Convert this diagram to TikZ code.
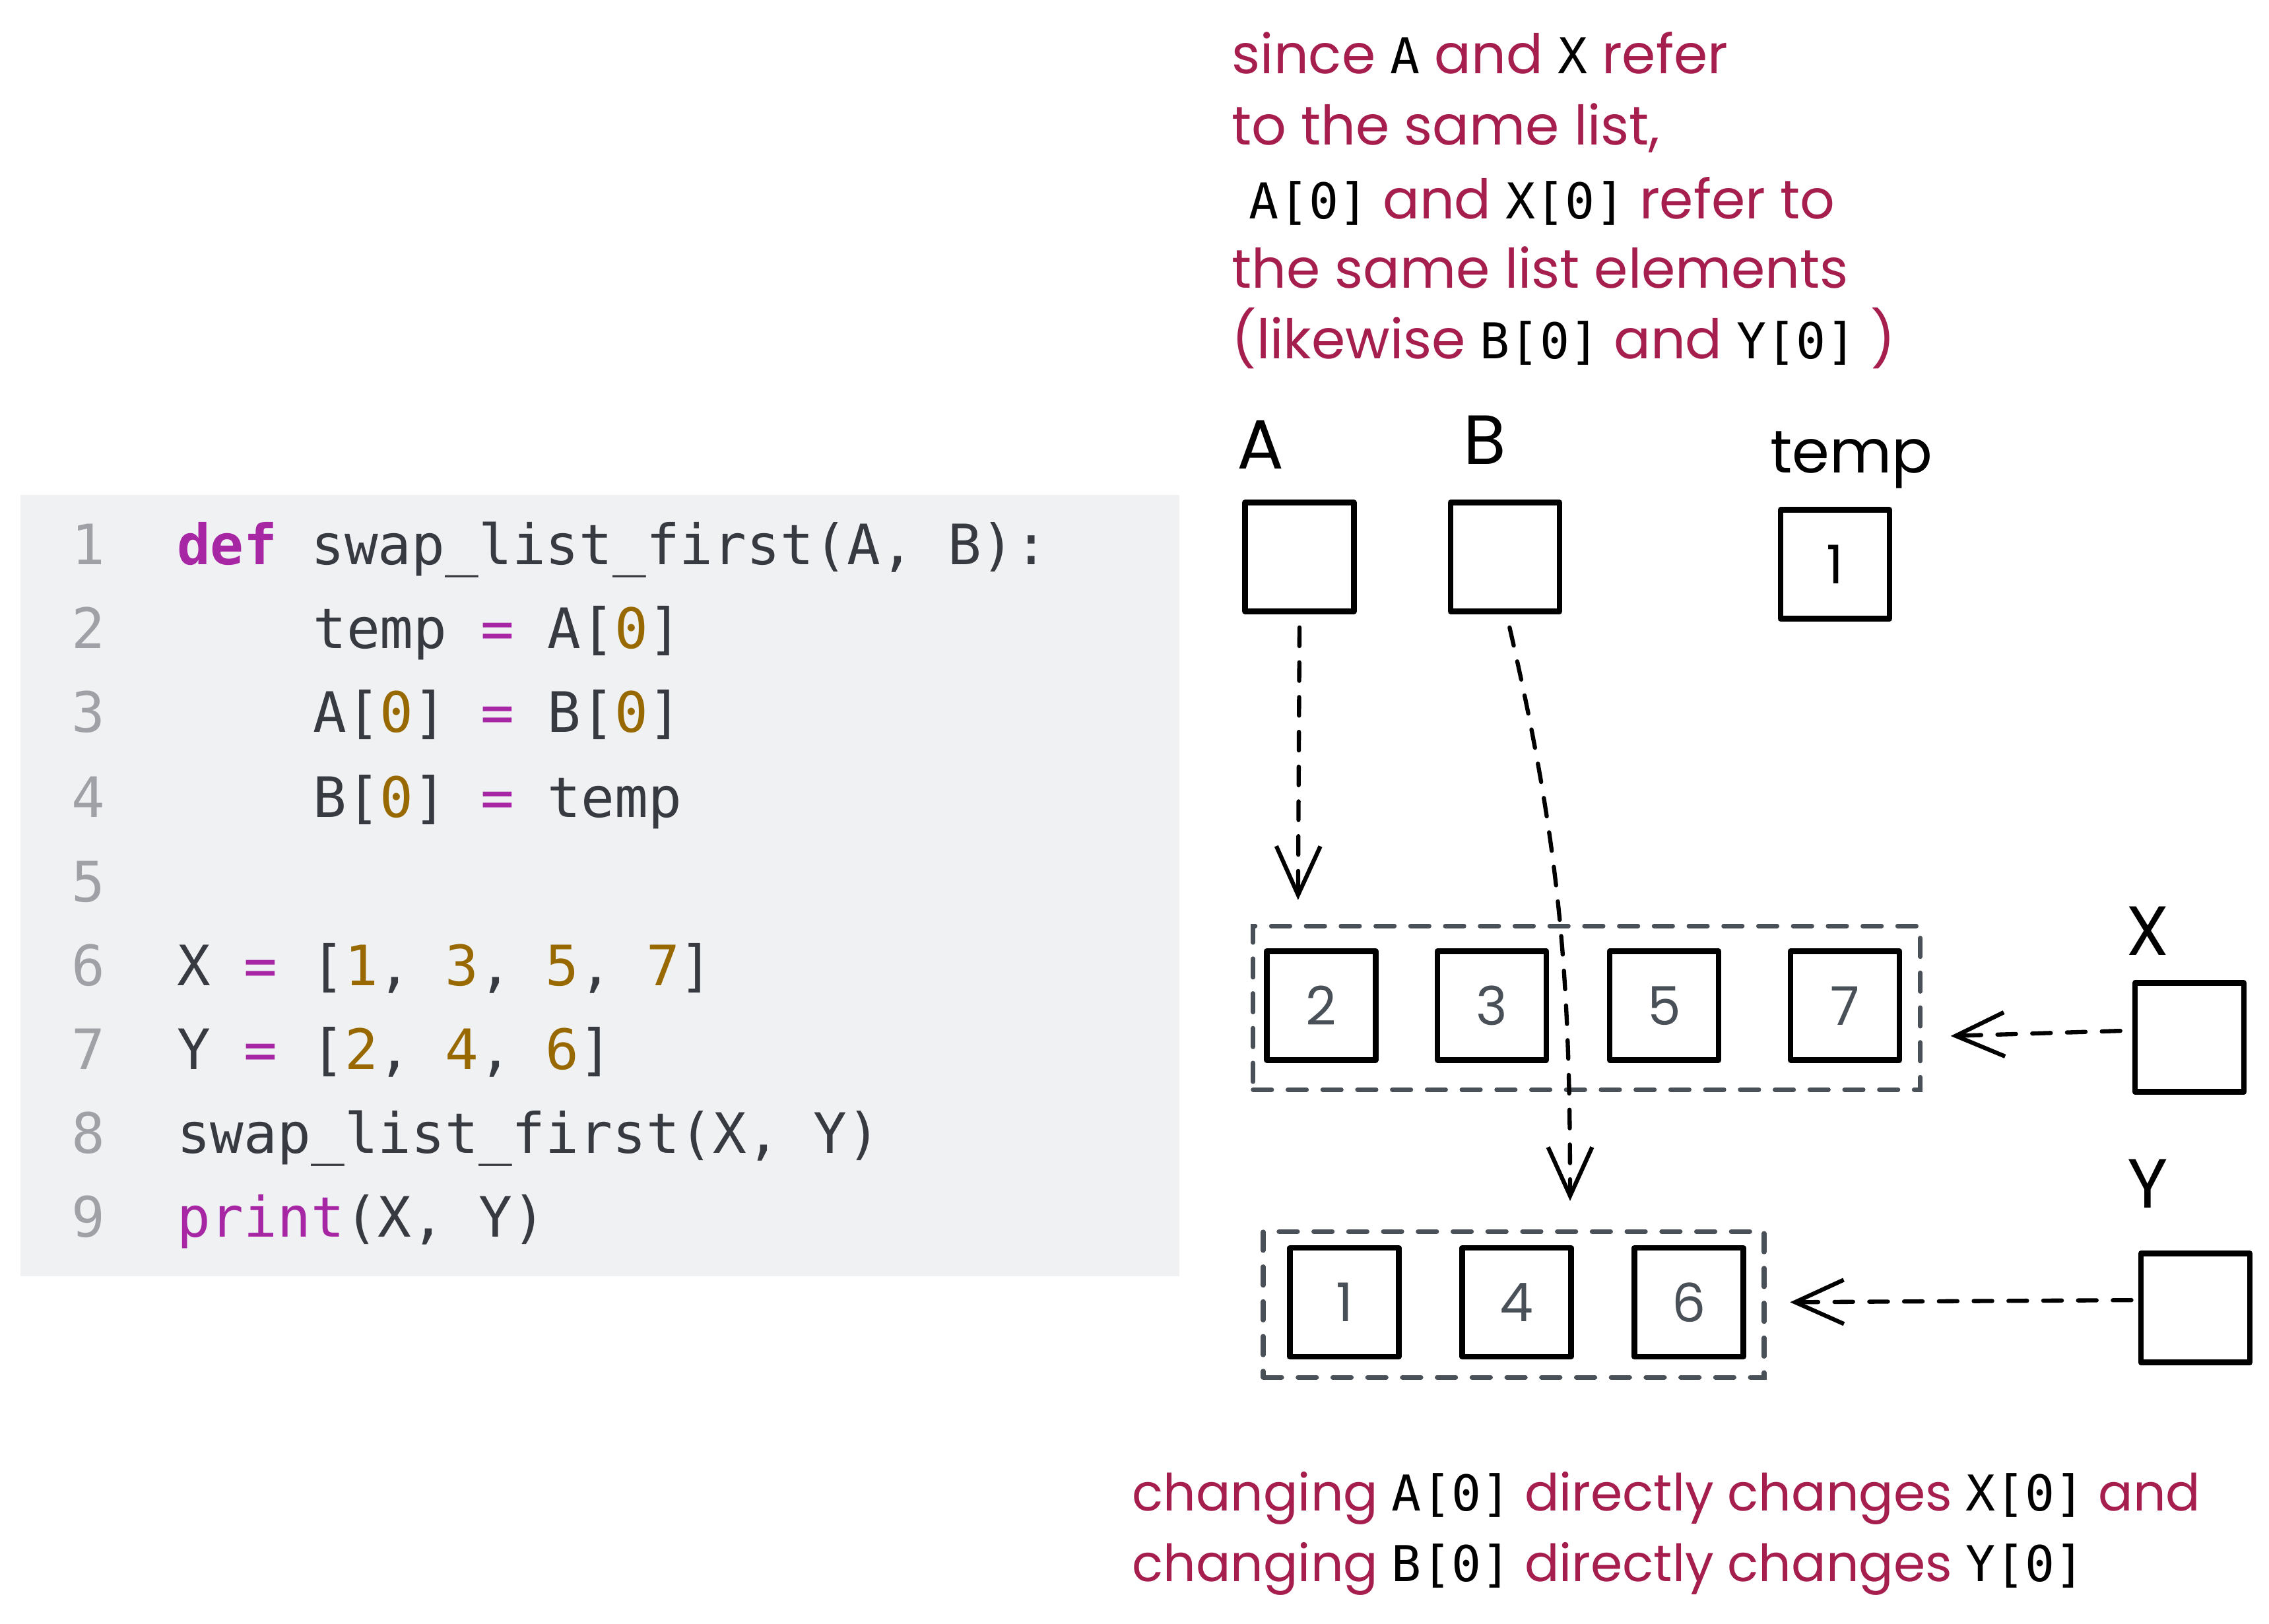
\documentclass[tikz,border=0pt]{standalone}
\usepackage{fontspec}
\newfontfamily\handfont{Poppins}
\newfontfamily\codefont{DejaVu Sans Mono}
\usetikzlibrary{arrows.meta}

\definecolor{codebg}{HTML}{EFF1F3}
\definecolor{codetext}{HTML}{383A42}
\definecolor{codekw}{HTML}{A626A4}
\definecolor{codenum}{HTML}{986801}
\definecolor{codeln}{HTML}{A0A1A7}
\definecolor{handred}{HTML}{A61E4D}
\definecolor{sketchgray}{HTML}{495057}

\newcommand\kw[1]{\textcolor{codekw}{#1}}
\newcommand\nm[1]{\textcolor{codenum}{#1}}
\newcommand\mono[1]{{\color{black}\codefont\fontsize{21.3}{26}\selectfont #1}}

\tikzset{
  codeline/.style={anchor=base west,inner sep=0,text=codetext,font=\codefont\fontsize{24}{28}\selectfont},
  lineno/.style={anchor=base,inner sep=0,text=codeln,font=\codefont\fontsize{24}{28}\selectfont},
  note/.style={anchor=base west,inner sep=0,text=handred,font=\handfont\fontsize{23.5}{27}\selectfont},
  lbl/.style={anchor=base,inner sep=0,font=\handfont\fontsize{30}{36}\selectfont},
  cell/.style={draw=black,line width=2.4pt,line join=round,minimum size=1.65cm,inner sep=0,text=sketchgray,font=\handfont\fontsize{23}{28}\selectfont},
  listbox/.style={draw=sketchgray,line width=2pt,dash pattern=on 8pt off 7pt,line cap=round,inner sep=0},
  ptr/.style={draw=black,line width=1.8pt,dash pattern=on 8pt off 7pt,line cap=round,-{Straight Barb[length=21pt,width=19pt,line width=1.8pt]}}
}

\begin{document}
\begin{tikzpicture}[x=0.021926cm,y=-0.021926cm]
	\fill[white] (0,0) rectangle (1568,1122);
	\useasboundingbox (0,0) rectangle (1568,1122);

	% code panel
	\fill[codebg] (14,342) rectangle (815,882);
	\node[lineno] (n1) at (61,390) {1};
	\node[lineno] (n2) at (61,448) {2};
	\node[lineno] (n3) at (61,506) {3};
	\node[lineno] (n4) at (61,565) {4};
	\node[lineno] (n5) at (61,623) {5};
	\node[lineno] (n6) at (61,681) {6};
	\node[lineno] (n7) at (61,739) {7};
	\node[lineno] (n8) at (61,797) {8};
	\node[lineno] (n9) at (61,855) {9};
	\node[codeline] (c1) at (122,390) {\kw{\textbf{def}} swap\_list\_first(A, B):};
	\node[codeline] (c2) at (216,448) {temp \kw{=} A[\nm{0}]};
	\node[codeline] (c3) at (216,506) {A[\nm{0}] \kw{=} B[\nm{0}]};
	\node[codeline] (c4) at (216,565) {B[\nm{0}] \kw{=} temp};
	\node[codeline] (c6) at (122,681) {X \kw{=} [\nm{1}, \nm{3}, \nm{5}, \nm{7}]};
	\node[codeline] (c7) at (122,739) {Y \kw{=} [\nm{2}, \nm{4}, \nm{6}]};
	\node[codeline] (c8) at (122,797) {swap\_list\_first(X, Y)};
	\node[codeline] (c9) at (122,855) {\kw{print}(X, Y)};

	% notes
	\node[note] (t1) at (851,51) {since \mono{A} and \mono{X} refer};
	\node[note] (t2) at (851,100) {to the same list,};
	\node[note] (t3) at (863,151) {\mono{A[0]} and \mono{X[0]} refer to};
	\node[note] (t4) at (851,199) {the same list elements};
	\node[note] (t5) at (851,248) {(likewise \mono{B[0]} and \mono{Y[0]} )};
	\node[note,font=\handfont\fontsize{22.1}{27}\selectfont] (b1) at (782,1044) {changing \mono{A[0]} directly changes \mono{X[0]} and};
	\node[note,font=\handfont\fontsize{22.1}{27}\selectfont] (b2) at (782,1093) {changing \mono{B[0]} directly changes \mono{Y[0]}};

	% variables
	\node[lbl] (lblA) at (871,324) {A};
	\node[lbl] (lblB) at (1026,321) {B};
	\node[lbl,anchor=base west,font=\handfont\fontsize{26}{30}\selectfont] (lblTemp) at (1223,327) {temp};
	\node[lbl] (lblX) at (1484,660) {X};
	\node[lbl] (lblY) at (1484,835) {Y};
	\node[cell] (boxA) at (898,385) {};
	\node[cell] (boxB) at (1040,385) {};
	\node[cell,text=black] (boxTemp) at (1268,390) {1};
	\node[cell] (boxX) at (1513,717) {};
	\node[cell] (boxY) at (1517,904) {};

	% lists
	\node[listbox,minimum width=10.11cm,minimum height=2.48cm] (listX) at (1096.5,696.5) {};
	\node[listbox,minimum width=7.59cm,minimum height=2.21cm] (listY) at (1046,901.5) {};
	\node[cell] (x0) at (913,695) {2};
	\node[cell] (x1) at (1031,695) {3};
	\node[cell] (x2) at (1150,695) {5};
	\node[cell] (x3) at (1275,695) {7};
	\node[cell] (y0) at (929,900) {1};
	\node[cell] (y1) at (1048,900) {4};
	\node[cell] (y2) at (1167,900) {6};

	% references
	\coordinate (tipA) at (897,622);
	\coordinate (tipB) at (1085,830);
	\coordinate (tipX) at (1348,716);
	\coordinate (tipY) at (1237,900);
	\draw[ptr] ([yshift=-0.2cm]boxA.south) -- (tipA);
	\draw[ptr] ([xshift=0.07cm,yshift=-0.2cm]boxB.south) to[out=-77,in=90] (tipB);
	\draw[ptr] ([xshift=-0.18cm,yshift=0.1cm]boxX.west) -- (tipX);
	\draw[ptr] ([xshift=-0.1cm,yshift=0.12cm]boxY.west) -- (tipY);
\end{tikzpicture}
\end{document}
